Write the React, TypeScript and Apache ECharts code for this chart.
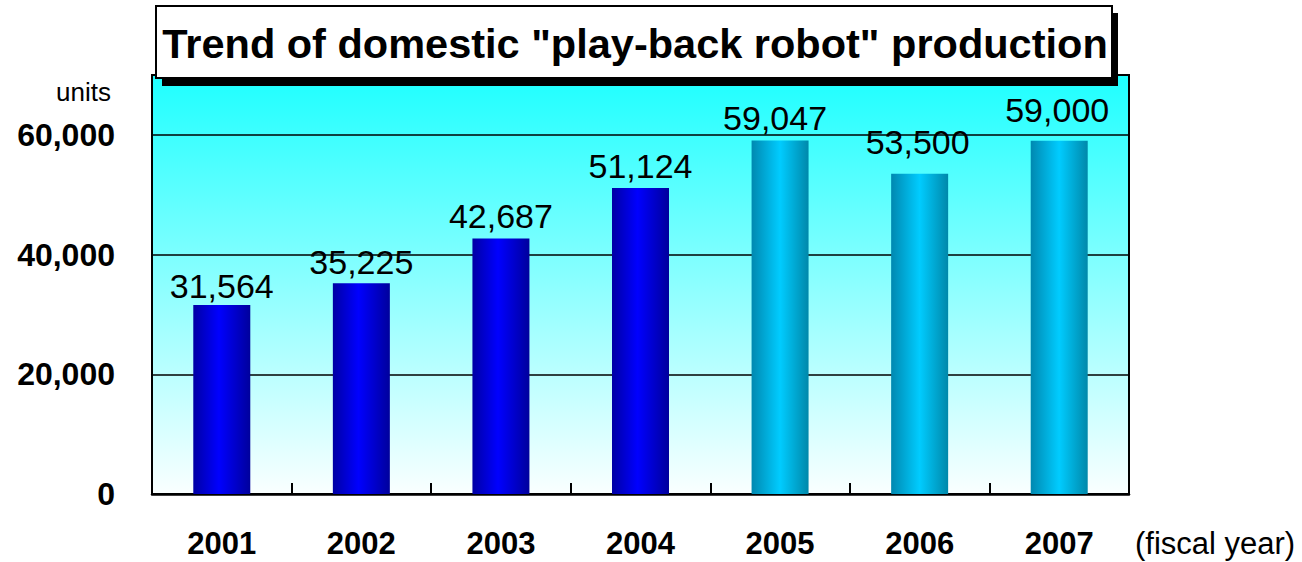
import React, { useEffect, useRef } from "react";
import * as echarts from "echarts";

const categories = ["2001", "2002", "2003", "2004", "2005", "2006", "2007"];
const production = [31564, 35225, 42687, 51124, 59047, 53500, 59000];
// which bars are forecasts/estimates (lighter cyan bars)
const isLight = [false, false, false, false, true, true, true];
const titleText = 'Trend of domestic "play-back robot" production';
const unitText = "units";
const xAxisName = "(fiscal year)";

// label nudges (style only)
const labelOffsets: [number, number][] = [
  [0, 2], [0, 0], [0, -1], [0, -1], [-5, -2], [-2, -11], [-2, -10],
];

const FONT = "'Liberation Sans', Arial, sans-serif";

const darkGrad = new echarts.graphic.LinearGradient(0, 0, 1, 0, [
  { offset: 0, color: "#0000A4" },
  { offset: 0.45, color: "#0000FF" },
  { offset: 1, color: "#00009C" },
]);
const lightGrad = new echarts.graphic.LinearGradient(0, 0, 1, 0, [
  { offset: 0, color: "#0088B0" },
  { offset: 0.5, color: "#00CCFF" },
  { offset: 1, color: "#0088AA" },
]);

export default function App() {
  const ref = useRef<HTMLDivElement>(null);
  useEffect(() => {
    if (!ref.current) return;
    const chart = echarts.init(ref.current, undefined, { renderer: "svg" });
    const option = {
      animation: false,
      backgroundColor: "#ffffff",
      grid: {
        left: 152,
        right: 173,
        top: 75,
        bottom: 68,
        show: true,
        borderColor: "#000",
        borderWidth: 2,
        backgroundColor: new echarts.graphic.LinearGradient(0, 0, 0, 1, [
          { offset: 0, color: "#1EFFFF" },
          { offset: 1, color: "#FAFFFF" },
        ]),
      },
      xAxis: {
        type: "category",
        data: categories,
        boundaryGap: true,
        axisLine: { show: true, lineStyle: { color: "#000", width: 2.5 } },
        axisTick: { show: true, inside: true, length: 11, lineStyle: { color: "#000", width: 2 } },
        axisLabel: {
          margin: 36,
          fontSize: 31,
          lineHeight: 26,
          fontWeight: "bold",
          color: "#000",
          fontFamily: FONT,
        },
      },
      yAxis: {
        type: "value",
        min: 0,
        max: 70000,
        interval: 20000,
        axisLine: { show: true, lineStyle: { color: "#000", width: 2 } },
        axisTick: { show: false },
        splitLine: { show: true, lineStyle: { color: "#000", width: 1.5 } },
        axisLabel: {
          showMaxLabel: false,
          margin: 37,
          fontSize: 32,
          fontWeight: "bold",
          color: "#000",
          fontFamily: FONT,
          formatter: (v: number) => v.toLocaleString("en-US"),
        },
      },
      series: [
        {
          type: "bar",
          barWidth: 57,
          data: production.map((v, i) => ({
            value: v,
            itemStyle: { color: isLight[i] ? lightGrad : darkGrad },
            label: { offset: labelOffsets[i] },
          })),
          label: {
            show: true,
            position: "top",
            distance: 4,
            fontSize: 34,
            color: "#000",
            fontFamily: FONT,
            formatter: (p: any) => Number(p.value).toLocaleString("en-US"),
          },
        },
      ],
      graphic: [
        {
          type: "rect",
          z: 100,
          shape: { x: 162, y: 13, width: 956, height: 73 },
          style: { fill: "#000" },
        },
        {
          type: "rect",
          z: 101,
          shape: { x: 156, y: 6, width: 956, height: 72 },
          style: { fill: "#fff", stroke: "#000", lineWidth: 2 },
        },
        {
          type: "text",
          z: 102,
          x: 635,
          y: 43,
          style: {
            text: titleText,
            fontSize: 41.5,
            fontWeight: "bold",
            fontFamily: FONT,
            fill: "#000",
            align: "center",
            verticalAlign: "middle",
          },
        },
        {
          type: "text",
          x: 111,
          y: 92,
          style: {
            text: unitText,
            fontSize: 26,
            fontFamily: FONT,
            fill: "#000",
            align: "right",
            verticalAlign: "middle",
          },
        },
        {
          type: "text",
          x: 1135,
          y: 543,
          style: {
            text: xAxisName,
            fontSize: 31,
            fontFamily: FONT,
            fill: "#000",
            align: "left",
            verticalAlign: "middle",
          },
        },
      ],
    };
    chart.setOption(option as any);
    return () => chart.dispose();
  }, []);
  return (
    <div
      ref={ref}
      style={{ position: "fixed", left: 0, top: 0, width: 1302, height: 562 }}
    />
  );
}
